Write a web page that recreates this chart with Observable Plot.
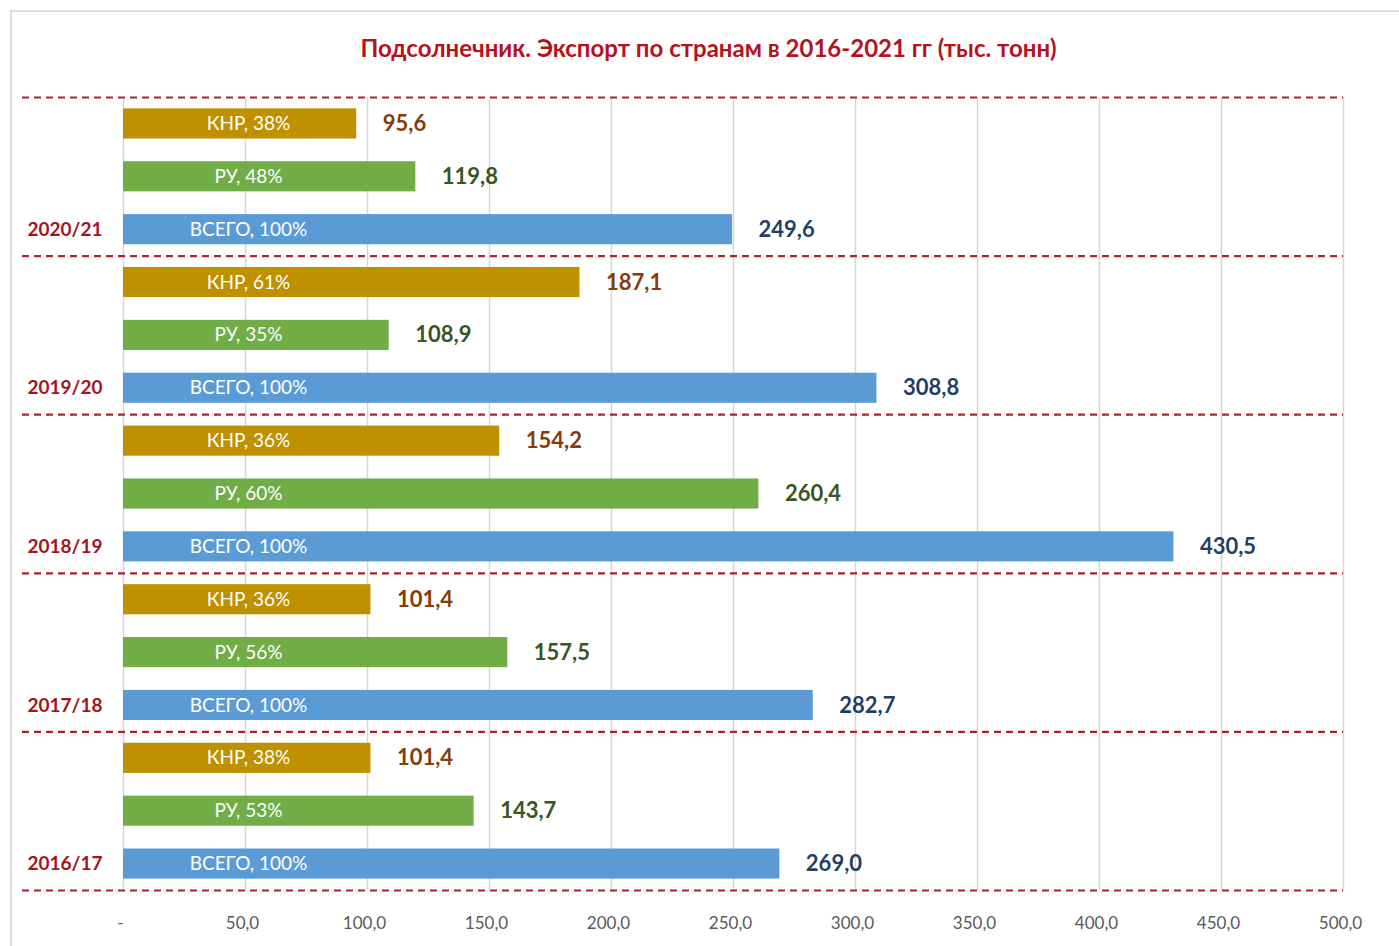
<!DOCTYPE html>
<html>
<head>
<meta charset="utf-8">
<script src="https://cdn.jsdelivr.net/npm/d3@7"></script>
<script src="https://cdn.jsdelivr.net/npm/@observablehq/plot@0.6"></script>
<style>
  html, body { margin: 0; padding: 0; background: #fff; }
  body { width: 1399px; height: 946px; overflow: hidden; position: relative; font-family: Lato, "Open Sans", sans-serif; }
  #frame { position: absolute; left: 10px; top: 10px; width: 1400px; height: 950px; border-left: 2px solid #dcdcdc; border-top: 2px solid #dcdcdc; pointer-events: none; }
  #title { height: 80px; box-sizing: border-box; padding-top: 33px; padding-left: 18px; text-align: center; font-size: 24px; font-weight: bold; color: #b5121b; line-height: 30px; }
  svg { display: block; }
</style>
</head>
<body>
<div id="frame"></div>
<div id="title">Подсолнечник. Экспорт по странам в 2016-2021 гг (тыс. тонн)</div>
<div id="chart"></div>
<script>
const seasons = ["2020/21", "2019/20", "2018/19", "2017/18", "2016/17"];
const categories = ["КНР", "РУ", "ВСЕГО"];
const knrValues = [95.6, 187.1, 154.2, 101.4, 101.4];
const ruValues = [119.8, 108.9, 260.4, 157.5, 143.7];
const totalValues = [249.6, 308.8, 430.5, 282.7, 269.0];
const knrShares = [38, 61, 36, 36, 38];
const ruShares = [48, 35, 60, 56, 53];
const totalShares = [100, 100, 100, 100, 100];
const xTicks = [0, 50, 100, 150, 200, 250, 300, 350, 400, 450, 500];

const barColors = { "КНР": "#bf9000", "РУ": "#70ad47", "ВСЕГО": "#5b9bd5" };
const valueColors = { "КНР": "#843c0c", "РУ": "#375623", "ВСЕГО": "#1f3f66" };

const seriesValues = [knrValues, ruValues, totalValues];
const seriesShares = [knrShares, ruShares, totalShares];

const rows = [];
seasons.forEach((s, i) => {
  categories.forEach((c, j) => {
    rows.push({ season: s, cat: c, key: s + "|" + c, value: seriesValues[j][i], share: seriesShares[j][i] });
  });
});
const keys = rows.map(d => d.key);
const fmt = v => v.toFixed(1).replace(".", ",");
const tickFmt = v => v === 0 ? "-" : fmt(v);

const step = (810 - 17) / keys.length;

const chart = Plot.plot({
  width: 1399,
  height: 866,
  marginLeft: 22,
  marginRight: 56,
  marginTop: 17,
  marginBottom: 56,
  style: { fontFamily: "Lato, 'Open Sans', sans-serif", background: "transparent" },
  x: { domain: [0, 500], range: [123, 1343], label: null },
  y: { domain: keys, range: [17, 810], paddingInner: 0.43, paddingOuter: 0.215, round: false, axis: null },
  marks: [
    Plot.ruleX(xTicks, { stroke: "#d6d6d6", strokeWidth: 1.5 }),
    Plot.barX(rows, { x: "value", y: "key", fill: d => barColors[d.cat] }),
    Plot.ruleY(rows.filter(d => d.cat === "КНР"), { y: "key", dy: -step / 2, stroke: "#b0202e", strokeWidth: 2.2, strokeDasharray: "7,5" }),
    Plot.ruleY(rows.slice(-1), { y: "key", dy: step / 2, stroke: "#b0202e", strokeWidth: 2.2, strokeDasharray: "7,5" }),
    Plot.text(rows, { y: "key", text: d => `${d.cat}, ${d.share}%`, frameAnchor: "left", dx: 226, textAnchor: "middle", fill: "white", fontSize: 19 }),
    Plot.text(rows, { x: "value", y: "key", text: d => fmt(d.value), textAnchor: "start", dx: 26, fill: d => valueColors[d.cat], fontWeight: "bold", fontSize: 22 }),
    Plot.text(rows.filter(d => d.cat === "ВСЕГО"), { y: "key", text: "season", frameAnchor: "left", dx: 5, textAnchor: "start", fill: "#a5141c", fontWeight: "bold", fontSize: 19 }),
    Plot.axisX({ ticks: xTicks, tickFormat: tickFmt, tickSize: 0, tickPadding: 26, fontSize: 17, color: "#595959", dx: -3, label: null })
  ]
});
document.getElementById("chart").appendChild(chart);
</script>
</body>
</html>
